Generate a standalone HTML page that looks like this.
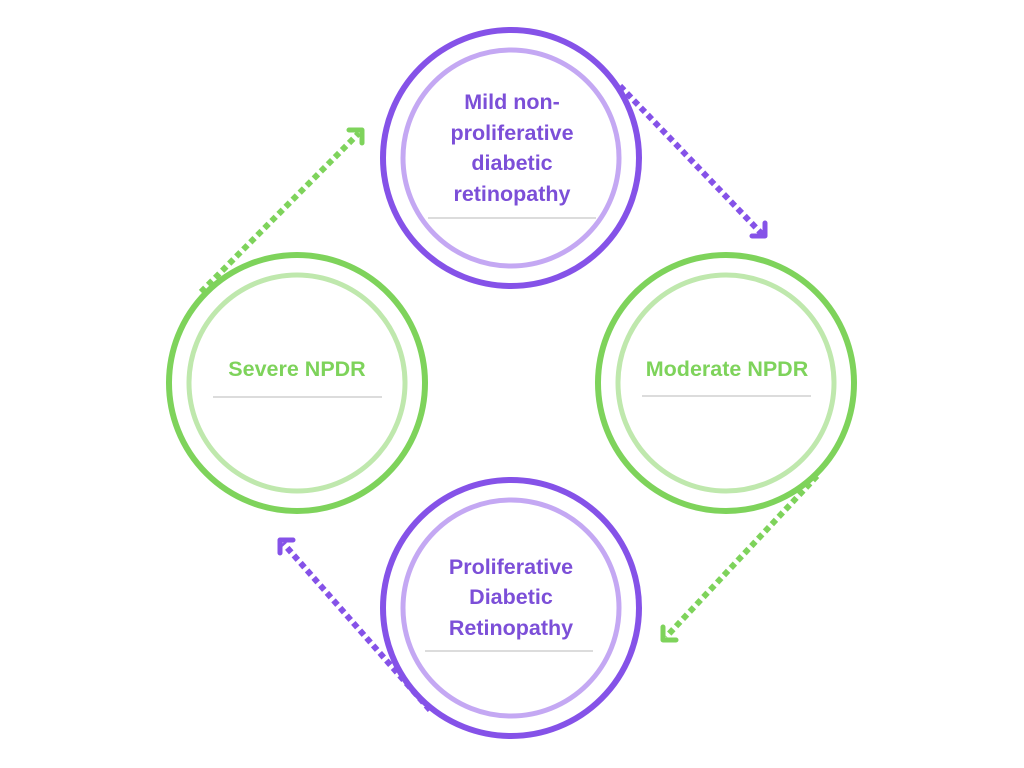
<!DOCTYPE html>
<html><head><meta charset="utf-8"><style>
html,body{margin:0;padding:0;background:#fff;}
svg{display:block}
text{font-family:"Liberation Sans",sans-serif;font-weight:bold;font-size:21.5px;text-anchor:middle}
</style></head><body>
<svg width="1024" height="768" viewBox="0 0 1024 768">
<g fill="none" stroke-linecap="butt">
<!-- circles -->
<circle cx="511" cy="158" r="128" fill="#fff" stroke="#8552e8" stroke-width="6"/>
<circle cx="511" cy="158" r="108" stroke="#c4a8f3" stroke-width="5"/>
<circle cx="511" cy="608" r="128" fill="#fff" stroke="#8552e8" stroke-width="6"/>
<circle cx="511" cy="608" r="108" stroke="#c4a8f3" stroke-width="5"/>
<circle cx="297" cy="383" r="128" fill="#fff" stroke="#7ed35b" stroke-width="6"/>
<circle cx="297" cy="383" r="108" stroke="#bfe8ad" stroke-width="5"/>
<circle cx="726" cy="383" r="128" fill="#fff" stroke="#7ed35b" stroke-width="6"/>
<circle cx="726" cy="383" r="108" stroke="#bfe8ad" stroke-width="5"/>
<!-- dotted arrows -->
<line x1="620" y1="86" x2="762" y2="234" stroke="#8552e8" stroke-width="6" stroke-dasharray="6 4"/>
<polyline points="752,236 765,236 765,223" stroke="#8552e8" stroke-width="5" stroke-linecap="round" stroke-linejoin="round"/>
<line x1="817" y1="476" x2="666" y2="637" stroke="#7ed35b" stroke-width="6" stroke-dasharray="6 4"/>
<polyline points="676,640 663,640 663,627" stroke="#7ed35b" stroke-width="5" stroke-linecap="round" stroke-linejoin="round"/>
<line x1="430" y1="710" x2="283" y2="543" stroke="#8552e8" stroke-width="6" stroke-dasharray="6 4"/>
<polyline points="293,540 280,540 280,553" stroke="#8552e8" stroke-width="5" stroke-linecap="round" stroke-linejoin="round"/>
<line x1="201" y1="292" x2="359" y2="133" stroke="#7ed35b" stroke-width="6" stroke-dasharray="6 4"/>
<polyline points="349,130 362,130 362,143" stroke="#7ed35b" stroke-width="5" stroke-linecap="round" stroke-linejoin="round"/>
<!-- separators -->
<line x1="428" y1="218" x2="596" y2="218" stroke="#c8c8c8" stroke-width="1.2"/>
<line x1="425" y1="651" x2="593" y2="651" stroke="#c8c8c8" stroke-width="1.2"/>
<line x1="213" y1="397" x2="382" y2="397" stroke="#c8c8c8" stroke-width="1.2"/>
<line x1="642" y1="396" x2="811" y2="396" stroke="#c8c8c8" stroke-width="1.2"/>
</g>
<g fill="#7c4fd8">
<text x="512" y="109">Mild non-</text>
<text x="512" y="140">proliferative</text>
<text x="512" y="170">diabetic</text>
<text x="512" y="201">retinopathy</text>
<text x="511" y="574">Proliferative</text>
<text x="511" y="604">Diabetic</text>
<text x="511" y="635">Retinopathy</text>
</g>
<g fill="#7ed35b">
<text x="297" y="376">Severe NPDR</text>
<text x="727" y="376">Moderate NPDR</text>
</g>
</svg>
</body></html>
